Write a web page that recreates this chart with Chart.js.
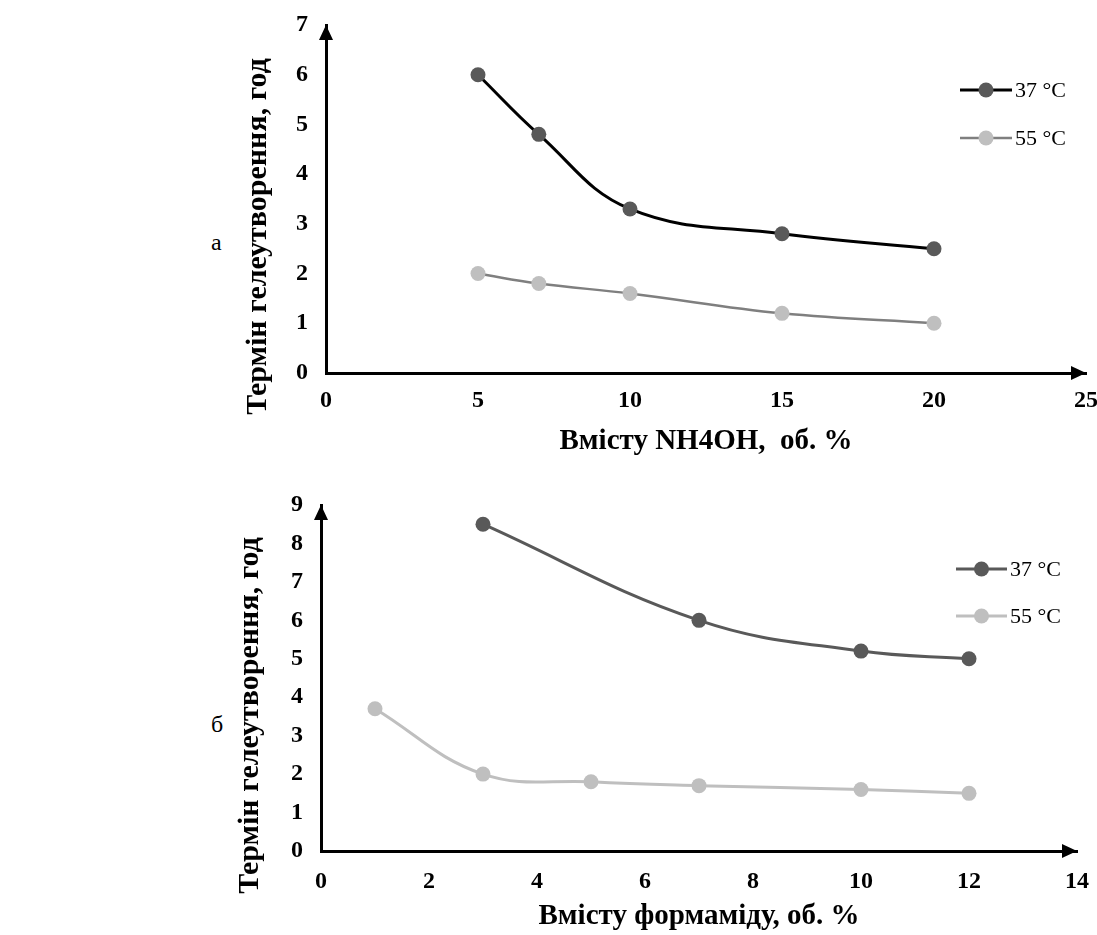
<!DOCTYPE html>
<html>
<head>
<meta charset="utf-8">
<script src="https://cdn.jsdelivr.net/npm/chart.js@4.4.1/dist/chart.umd.min.js"></script>
<style>
  body { margin: 0; background: #fff; width: 1097px; height: 935px; position: relative; overflow: hidden;
         font-family: "Liberation Serif", "Times New Roman", serif; }
  canvas { position: absolute; left: 0; }
  #chartA { top: 0; }
  #chartB { top: 470px; }
  .tag { position: absolute; left: 211px; font-size: 24px; line-height: 24px; color: #000; }
</style>
</head>
<body>
<div class="tag" style="top:230px">а</div>
<div class="tag" style="top:712px">б</div>
<canvas id="chartA" width="1097" height="460"></canvas>
<canvas id="chartB" width="1097" height="465"></canvas>
<script>
// --- data ---
// а: NH4OH content
var nhX = [5, 7, 10, 15, 20];
var nh37 = [6.0, 4.8, 3.3, 2.8, 2.5];
var nh55 = [2.0, 1.8, 1.6, 1.2, 1.0];

// б: formamide content
var fmX37 = [3, 7, 10, 12];
var fm37 = [8.5, 6.0, 5.2, 5.0];
var fmX55 = [1, 3, 5, 7, 10, 12];
var fm55 = [3.7, 2.0, 1.8, 1.7, 1.6, 1.5];

var seriesLabels = ['37 °C', '55 °C'];
// trailing spaces push the rotated title down a bit, as in the original figure
var yTitle = 'Термін гелеутворення, год          ';

var serif = '"Liberation Serif", "Times New Roman", serif';
var dotRadius = 7.5;
Chart.defaults.color = '#000';
Chart.defaults.font.family = serif;

function pts(xs, ys) {
    return xs.map(function (x, i) { return { x: x, y: ys[i] }; });
}

// arrow heads at the ends of both axes
var axisArrows = {
    id: 'axisArrows',
    afterDraw: function (chart) {
        var ctx = chart.ctx, a = chart.chartArea;
        ctx.save();
        ctx.fillStyle = '#000';
        ctx.beginPath();
        ctx.moveTo(a.left, a.top);
        ctx.lineTo(a.left - 7, a.top + 15);
        ctx.lineTo(a.left + 7, a.top + 15);
        ctx.closePath();
        ctx.fill();
        ctx.beginPath();
        ctx.moveTo(a.right, a.bottom);
        ctx.lineTo(a.right - 15, a.bottom - 7);
        ctx.lineTo(a.right - 15, a.bottom + 7);
        ctx.closePath();
        ctx.fill();
        ctx.restore();
    }
};

// legend drawn as line + marker + label, like the original
var sideKey = {
    id: 'sideKey',
    afterDraw: function (chart, args, opts) {
        var ctx = chart.ctx;
        ctx.save();
        ctx.font = '22px ' + serif;
        ctx.textBaseline = 'middle';
        chart.data.datasets.forEach(function (ds, i) {
            var y = opts.top + i * opts.rowGap;
            ctx.strokeStyle = ds.borderColor;
            ctx.lineWidth = ds.borderWidth;
            ctx.beginPath();
            ctx.moveTo(opts.left, y);
            ctx.lineTo(opts.left + opts.lineLen, y);
            ctx.stroke();
            ctx.fillStyle = ds.pointBackgroundColor;
            ctx.beginPath();
            ctx.arc(opts.left + opts.lineLen / 2, y, dotRadius, 0, Math.PI * 2);
            ctx.fill();
            ctx.fillStyle = '#000';
            ctx.fillText(ds.label, opts.left + opts.lineLen + 3, y + 1);
        });
        ctx.restore();
    }
};

function makeChart(id, cfg) {
    var ctx = document.getElementById(id).getContext('2d');
    cfg.datasets.forEach(function (ds) {
        ds.pointRadius = dotRadius;
        ds.pointHoverRadius = dotRadius;
        ds.pointBorderWidth = 0;
        ds.pointBorderColor = ds.pointBackgroundColor;
        ds.tension = 0.4;
    });
    return new Chart(ctx, {
        type: 'line',
        data: { datasets: cfg.datasets },
        options: {
            responsive: false,
            animation: false,
            layout: { padding: cfg.padding },
            plugins: {
                legend: { display: false },
                tooltip: { enabled: false },
                sideKey: cfg.key
            },
            scales: {
                x: {
                    type: 'linear',
                    min: 0, max: cfg.xMax,
                    grid: { display: false, drawTicks: false },
                    border: { color: '#000', width: 3 },
                    ticks: { stepSize: cfg.xStep, padding: cfg.xTickPad, font: { size: 24, weight: 'bold' } },
                    title: { display: true, text: cfg.xTitle, padding: { top: 0, bottom: 1 },
                             font: { size: 29, weight: 'bold' } },
                    afterFit: function (s) { s.height = cfg.xHeight; s.paddingLeft = 0; s.paddingRight = 0; }
                },
                y: {
                    min: 0, max: cfg.yMax,
                    grid: { display: false, drawTicks: false },
                    border: { color: '#000', width: 3 },
                    ticks: { stepSize: 1, padding: 18, font: { size: 24, weight: 'bold' } },
                    title: { display: true, text: yTitle, padding: 0,
                             font: { size: 30, weight: 'bold' } },
                    afterFit: function (s) { s.width = cfg.yWidth; s.paddingTop = 0; s.paddingBottom = 0; }
                }
            }
        },
        plugins: [axisArrows, sideKey]
    });
}

// а
makeChart('chartA', {
    xMax: 25, xStep: 5, yMax: 7,
    xTitle: 'Вмісту NH4OH,  об. %',
    padding: { left: 240, right: 11, top: 25, bottom: 0 },
    yWidth: 86, xHeight: 87, xTickPad: 13,
    key: { left: 960, top: 90, rowGap: 48, lineLen: 52 },
    datasets: [
        { label: seriesLabels[0], data: pts(nhX, nh37), borderColor: '#000000', borderWidth: 3,
          pointBackgroundColor: '#595959' },
        { label: seriesLabels[1], data: pts(nhX, nh55), borderColor: '#7f7f7f', borderWidth: 2.5,
          pointBackgroundColor: '#bfbfbf' }
    ]
});

// б
makeChart('chartB', {
    xMax: 14, xStep: 2, yMax: 9,
    xTitle: 'Вмісту формаміду, об. %',
    padding: { left: 232, right: 20, top: 35, bottom: 0 },
    yWidth: 89, xHeight: 84, xTickPad: 16,
    key: { left: 956, top: 99, rowGap: 47, lineLen: 51 },
    datasets: [
        { label: seriesLabels[0], data: pts(fmX37, fm37), borderColor: '#595959', borderWidth: 3,
          pointBackgroundColor: '#595959' },
        { label: seriesLabels[1], data: pts(fmX55, fm55), borderColor: '#bfbfbf', borderWidth: 3,
          pointBackgroundColor: '#bfbfbf' }
    ]
});
</script>
</body>
</html>
